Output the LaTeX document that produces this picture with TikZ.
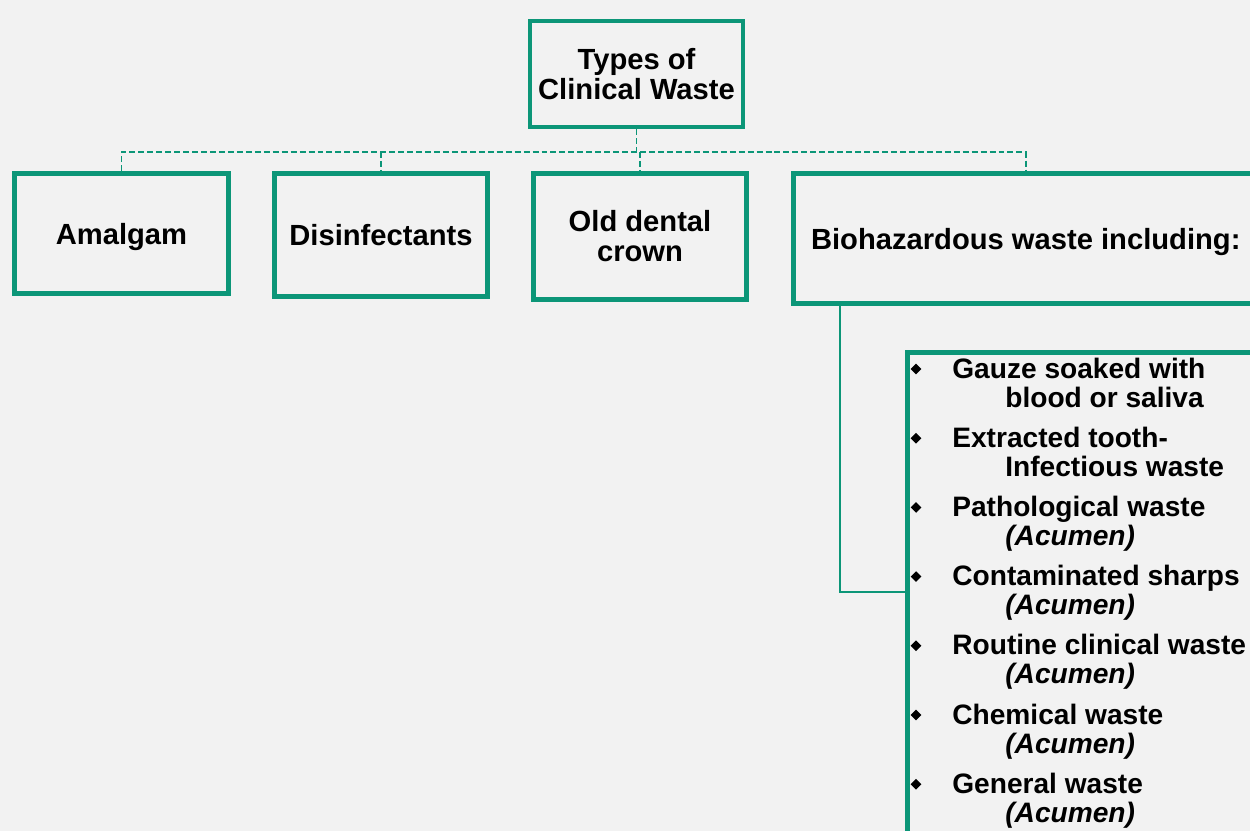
\documentclass[tikz,border=0pt]{standalone}
\usepackage{fontspec}
\setmainfont{Liberation Sans}
\usepackage{tikz}
\usetikzlibrary{shapes.geometric}
\usetikzlibrary{calc}

\definecolor{wastegreen}{RGB}{12,150,120}
\definecolor{pagegray}{RGB}{242,242,242}

\begin{document}
\begin{tikzpicture}[x=0.02cm, y=-0.02cm,
    wastebox/.style={draw=wastegreen, line width=2.8pt, align=center, inner sep=0pt,
        font=\fontsize{16.6}{17}\selectfont\bfseries, minimum width=4.26cm},
    itemtext/.style={anchor=base west, inner sep=0pt, font=\fontsize{16}{17}\selectfont\bfseries},
    dashlink/.style={wastegreen, line width=0.85pt, dash pattern=on 3.4pt off 1.7pt},
    solidlink/.style={wastegreen, line width=1.1pt},
    bulletmark/.style={diamond, fill=black, inner sep=0pt, minimum width=0.22cm, minimum height=0.22cm}]

        \fill[pagegray] (0,0) rectangle (1250,831);
        \useasboundingbox (0,0) rectangle (1250,831);
        \clip (0,0) rectangle (1250,831);

        \node[wastebox, minimum height=2.12cm] (types) at (636.5,74) {Types of\\Clinical Waste};

        \node[wastebox, minimum width=4.28cm, minimum height=2.40cm, text depth=0pt] (amalgam) at (121.5,233.5) {Amalgam};
        \node[wastebox, minimum height=2.46cm] (disinf) at (381,235) {Disinfectants};
        \node[wastebox, minimum height=2.52cm] (crown) at (640,236.5) {Old dental\\crown};
        \node[wastebox, minimum width=9.29cm, minimum height=2.60cm, text depth=0pt] (biohaz) at (1025.75,238.5) {Biohazardous waste including:};

        \node[wastebox, minimum width=7.01cm, minimum height=10.55cm] (items) at (1082.75,616.25) {};

        \coordinate (bus) at (0,152);
        \coordinate (elbow) at (840,592);

        \draw[dashlink] (types.south) -- (types.south |- bus);
        \draw[dashlink] (amalgam.north) -- (amalgam.north |- bus) -- (biohaz.north |- bus) -- (biohaz.north);
        \draw[dashlink] (disinf.north |- bus) -- (disinf.north);
        \draw[dashlink] (crown.north |- bus) -- (crown.north);

        \draw[solidlink] (biohaz.south -| elbow) -- (elbow) -- (items.west |- elbow);

        \foreach \first/\second [count=\i from 0] in {Gauze soaked with/blood or saliva,
                Extracted tooth-/Infectious waste,
                Pathological waste/\textit{(Acumen)},
                Contaminated sharps/\textit{(Acumen)},
                Routine clinical waste/\textit{(Acumen)},
                Chemical waste/\textit{(Acumen)},
                General waste/\textit{(Acumen)}} {
            \node[bulletmark] (bul\i) at (916,{369+69.2*\i}) {};
            \node[itemtext] (itema\i) at (952,{378+69.2*\i}) {\first};
            \node[itemtext] (itemb\i) at (1005,{407+69.2*\i}) {\second};
        }

    \end{tikzpicture}
\end{document}
